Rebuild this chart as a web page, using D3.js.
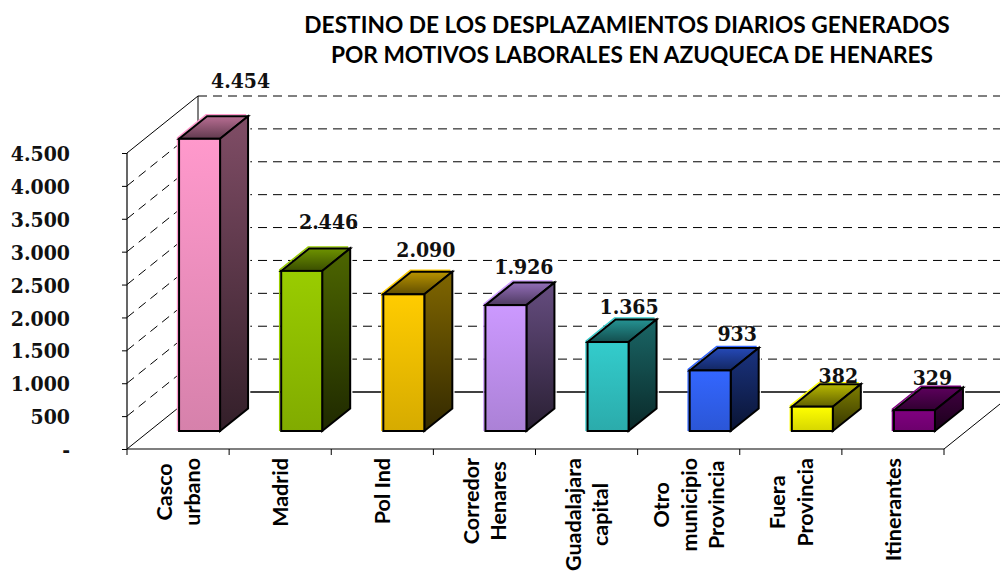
<!DOCTYPE html>
<html><head><meta charset="utf-8">
<script src="https://cdn.jsdelivr.net/npm/d3@7"></script>
<style>html,body{margin:0;padding:0;background:#fff}svg{display:block}</style>
</head><body><svg id="c" width="1000" height="574"></svg>
<script>
const titleLines = ["DESTINO DE LOS DESPLAZAMIENTOS DIARIOS GENERADOS","POR MOTIVOS LABORALES EN AZUQUECA DE HENARES"];
const categories = [["Casco","urbano"],["Madrid"],["Pol Ind"],["Corredor","Henares"],["Guadalajara","capital"],["Otro","municipio","Provincia"],["Fuera","Provincia"],["Itinerantes"]];
const values = [4454,2446,2090,1926,1365,933,382,329];
const valueLabels = ["4.454","2.446","2.090","1.926","1.365","933","382","329"];
const barColors = ["#FF99CC","#99CC00","#FFCC00","#CC99FF","#33CCCC","#3366FF","#FFFF00","#800080"];
const yTicks = [0,500,1000,1500,2000,2500,3000,3500,4000,4500];
const yTickLabels = ["-","500","1.000","1.500","2.000","2.500","3.000","3.500","4.000","4.500"];

// layout (not data)
const labelDx = [41,27,22,18,21,27,26,18], labelDy = [-50,-41,-37,-30,-27,-29,-23,-24];
const DX=71, DY=-57, barW=41, barDX=28, barDY=-22.5, barLift=18, barShift=21.5, R=1000;
const svg=d3.select("#c"), defs=svg.append("defs");
const y=d3.scaleLinear().domain([0,4500]).range([449,153]);
const x=d3.scaleBand().domain(categories.map((d,i)=>i)).range([127,944]);
const serif='"DejaVu Serif Condensed","DejaVu Serif",serif', sans='Lato,"Noto Sans",sans-serif';

// title
svg.selectAll("text.t").data(titleLines).join("text").attr("class","t")
  .attr("x",(d,i)=>[627,632][i]).attr("y",(d,i)=>[33,63][i]).attr("text-anchor","middle")
  .attr("font-family",sans).attr("font-weight",700).attr("font-size",22.7).attr("fill","#000").text(d=>d);

// walls
const dash="9 6";
const wall=svg.append("g").attr("stroke","#000").attr("fill","none");
yTicks.slice(1).forEach(t=>{
  const top=t===4500;
  wall.append("line").attr("x1",198).attr("x2",R).attr("y1",y(t)+DY).attr("y2",y(t)+DY).attr("stroke-dasharray",dash);
  wall.append("line").attr("x1",127).attr("x2",127+DX).attr("y1",y(t)).attr("y2",y(t)+DY)
    .attr("stroke-dasharray",top?null:dash);
});
const solid=[[198,y(4500)+DY,198,y(0)+DY],[127,y(0),127+DX,y(0)+DY],[944,y(0),R,y(0)-45]];
solid.forEach(s=>wall.append("line").attr("x1",s[0]).attr("y1",s[1]).attr("x2",s[2]).attr("y2",s[3]));
wall.append("line").attr("x1",198).attr("x2",R).attr("y1",y(0)+DY).attr("y2",y(0)+DY).attr("stroke-width",1.6);

// axes
const axL=d3.axisLeft(y).tickValues(yTicks).tickSize(5).tickFormat((d,i)=>yTickLabels[i]);
const gy=svg.append("g").attr("transform","translate(127,0)").call(axL);
gy.select(".domain").attr("stroke","#000").attr("stroke-width",1.2).attr("d",`M-0,${y(4500)}V${y(0)}`);
gy.selectAll("text").attr("x",-57).attr("dy",".36em").attr("font-family",serif).attr("font-weight",700).attr("font-size",21).attr("fill","#111");
const xEdges=d3.range(0,9).map(i=>x.range()[0]+i*x.step());
svg.append("line").attr("x1",127).attr("x2",944).attr("y1",449).attr("y2",449).attr("stroke","#000").attr("stroke-width",1.2);
svg.selectAll("line.xt").data(xEdges).join("line").attr("class","xt").attr("x1",d=>d).attr("x2",d=>d).attr("y1",449).attr("y2",455).attr("stroke","#000");

// bars
const shade=(c,k)=>{const r=d3.rgb(c);return d3.rgb(r.r*k,r.g*k,r.b*k).formatHex();};
const grad=(id,a,b)=>{const g=defs.append("linearGradient").attr("id",id).attr("x1",0).attr("x2",0).attr("y1",0).attr("y2",1);
  g.append("stop").attr("offset",0).attr("stop-color",a);g.append("stop").attr("offset",1).attr("stop-color",b);return `url(#${id})`;};
const pts=a=>a.map(p=>p.join(",")).join(" ");
const bars=svg.append("g");
values.forEach((v,i)=>{
  const c=barColors[i];
  const x0=x(i)+x.step()/2+barShift-barW/2, x1=x0+barW;
  const yb=y(0)-barLift, yt=y(v)-barLift+0.8;
  const g=bars.append("g").attr("stroke-linejoin","miter");
  const top=[[x0,yt],[x0+barDX,yt+barDY],[x1+barDX,yt+barDY],[x1,yt]];
  const side=[[x1,yt],[x1+barDX,yt+barDY],[x1+barDX,yb+barDY],[x1,yb]];
  // colored fringe and white rim
  g.append("polyline").attr("points",pts([[x0-1.5,yb],[x0-1.5,yt-1],[x0+barDX-1,yt+barDY-1.5],[x1+barDX-2,yt+barDY-1.5]])).attr("fill","none").attr("stroke",c).attr("stroke-width",1.5);
  g.append("polyline").attr("points",pts([[x1+barDX+1.5,yt+barDY],[x1+barDX+1.5,yb+barDY+1],[x1+1,yb+2]])).attr("fill","none").attr("stroke","#fff").attr("stroke-width",1.5);
  g.append("polygon").attr("points",pts(top)).attr("fill",grad("t"+i,shade(c,.72),shade(c,.38))).attr("stroke","#000").attr("stroke-width",2);
  g.append("polygon").attr("points",pts(side)).attr("fill",grad("s"+i,shade(c,.5),shade(c,.2))).attr("stroke","#000").attr("stroke-width",2);
  g.append("rect").attr("x",x0).attr("y",yt).attr("width",barW).attr("height",yb-yt).attr("fill",grad("f"+i,c,shade(c,.84))).attr("stroke","#000").attr("stroke-width",2);
});

// value labels
svg.selectAll("text.v").data(values).join("text").attr("class","v")
  .attr("x",(d,i)=>x(i)+x.step()/2+barShift+labelDx[i])
  .attr("y",(d,i)=>y(d)-barLift+labelDy[i]).attr("text-anchor","middle")
  .attr("font-family",serif).attr("font-weight",700).attr("font-size",21).attr("fill","#111")
  .text((d,i)=>valueLabels[i]);

// category labels
categories.forEach((lines,i)=>{
  const cx=x(i)+x.step()/2, n=lines.length;
  const g=svg.append("g");
  const ts=lines.map((l,j)=>{
    const bx=cx+8+(j-(n-1)/2)*27.5;
    return g.append("text").attr("data-bx",bx).attr("text-anchor","middle")
      .attr("font-family",sans).attr("font-weight",700).attr("font-size",21.5).attr("fill","#000").text(l);
  });
  const mx=d3.max(ts,t=>t.node().getComputedTextLength());
  ts.forEach(t=>t.attr("transform",`translate(${+t.attr("data-bx")},${458+mx/2}) rotate(-90)`));
});
</script></body></html>
